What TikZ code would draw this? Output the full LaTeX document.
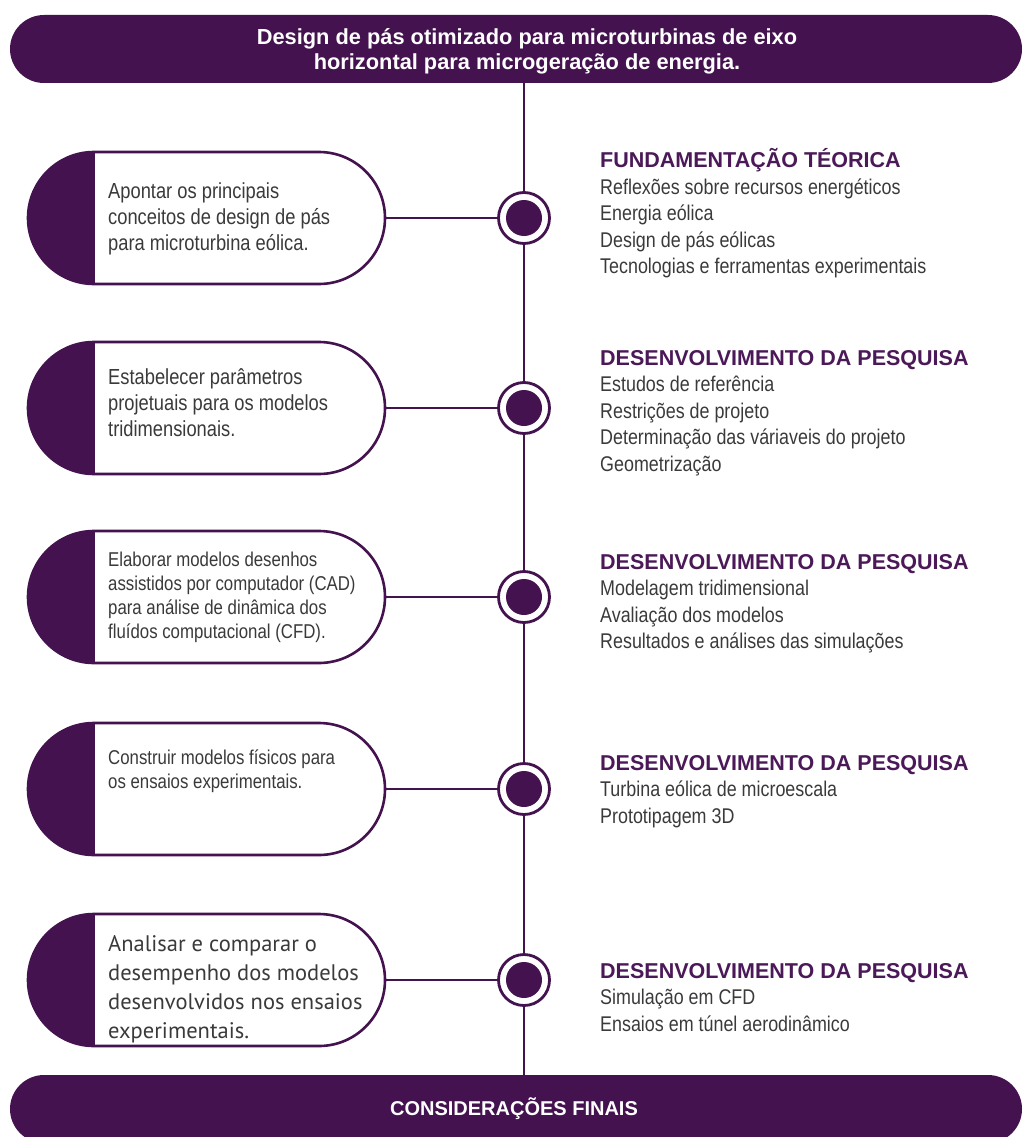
\documentclass[tikz,border=0pt]{standalone}
\usepackage{fontspec}
\setmainfont{Liberation Sans}
\newfontfamily\narrowf[FakeStretch=0.84]{Liberation Sans}
\newfontfamily\myriadf{PT Sans}
\definecolor{pdark}{HTML}{43124F}
\definecolor{ptitle}{HTML}{4B1858}
\definecolor{ptext}{HTML}{3A3A3A}
\begin{document}
\begin{tikzpicture}[x=1pt,y=-1pt,
  banner/.style={fill=pdark, rounded corners=34pt, minimum width=1012pt, minimum height=68pt, inner sep=0pt},
  bantext/.style={text=white, align=center, inner sep=0pt, font=\bfseries\fontsize{21.8}{25}\selectfont},
  pill/.style={draw=pdark, line width=2.6pt, fill=white, rounded corners=66pt, minimum width=357pt, minimum height=132pt, inner sep=0pt,
     path picture={\fill[pdark, sharp corners] (path picture bounding box.north west) rectangle ([xshift=67pt]path picture bounding box.south west);}},
  ring/.style={circle, draw=pdark, line width=2.8pt, fill=white, minimum size=51pt, inner sep=0pt,
     path picture={\fill[pdark] (path picture bounding box.center) circle (18pt);}},
  link/.style={draw=pdark, line width=2.3pt},
  ttl/.style={anchor=base west, inner sep=0pt, text=ptitle, font=\bfseries\fontsize{21.5}{24}\selectfont},
  itm/.style={anchor=base west, inner sep=0pt, text=ptext, font=\narrowf\fontsize{21.3}{25}\selectfont},
  ptxtA/.style={anchor=base west, inner sep=0pt, text=ptext, font=\narrowf\fontsize{21.8}{25}\selectfont},
  ptxtB/.style={anchor=base west, inner sep=0pt, text=ptext, font=\narrowf\fontsize{20}{24}\selectfont},
  ptxtC/.style={anchor=base west, inner sep=0pt, text=ptext, font=\myriadf\fontsize{22.5}{28}\selectfont},
]
\useasboundingbox (0,0) rectangle (1027,1137);
\clip (0,0) rectangle (1027,1137);

% banners
\node[banner] (top) at (516,49) {};
\node[bantext] (toptxt) at (527,51) {Design de pás otimizado para microturbinas de eixo\\horizontal para microgeração de energia.};
\node[banner] (bot) at (516,1109) {};
\node[bantext, font=\bfseries\fontsize{20}{24}\selectfont] (bottxt) at (514,1109) {CONSIDERAÇÕES FINAIS};

% rings
\node[ring] (c1) at (524,218) {};
\node[ring] (c2) at (524,408) {};
\node[ring] (c3) at (524,597) {};
\node[ring] (c4) at (524,789) {};
\node[ring] (c5) at (524,980) {};

% vertical spine
\draw[link] (top.south -| c1) -- (c1);
\draw[link] (c1) -- (c2);
\draw[link] (c2) -- (c3);
\draw[link] (c3) -- (c4);
\draw[link] (c4) -- (c5);
\draw[link] (c5) -- (bot.north -| c5);

% pills
\node[pill] (p1) at (206.5,218) {};
\node[pill] (p2) at (206.5,408) {};
\node[pill] (p3) at (206.5,597) {};
\node[pill] (p4) at (206.5,789) {};
\node[pill] (p5) at (206.5,980) {};

\draw[link] (p1.east) -- (c1.west);
\draw[link] (p2.east) -- (c2.west);
\draw[link] (p3.east) -- (c3.west);
\draw[link] (p4.east) -- (c4.west);
\draw[link] (p5.east) -- (c5.west);

% pill texts
\node[ptxtA] (p1a) at (108,198.5) {Apontar os principais};
\node[ptxtA] (p1b) at (108,224.5) {conceitos de design de pás};
\node[ptxtA] (p1c) at (108,250.5) {para microturbina eólica.};

\node[ptxtA] (p2a) at (108,384.5) {Estabelecer parâmetros};
\node[ptxtA] (p2b) at (108,410.5) {projetuais para os modelos};
\node[ptxtA] (p2c) at (108,436.5) {tridimensionais.};

\node[ptxtB] (p3a) at (108,566.5) {Elaborar modelos desenhos};
\node[ptxtB] (p3b) at (108,590.5) {assistidos por computador (CAD)};
\node[ptxtB] (p3c) at (108,614.5) {para análise de dinâmica dos};
\node[ptxtB] (p3d) at (108,638.5) {fluídos computacional (CFD).};

\node[ptxtB] (p4a) at (108,764) {Construir modelos físicos para};
\node[ptxtB] (p4b) at (108,788) {os ensaios experimentais.};

\node[ptxtC] (p5a) at (108,951) {Analisar e comparar o};
\node[ptxtC] (p5b) at (108,980) {desempenho dos modelos};
\node[ptxtC] (p5c) at (108,1009) {desenvolvidos nos ensaios};
\node[ptxtC] (p5d) at (108,1038) {experimentais.};

% right blocks
\node[ttl] (r1t) at (600,167.5) {FUNDAMENTAÇÃO TÉORICA};
\node[itm] (r1a) at (600,194) {Reflexões sobre recursos energéticos};
\node[itm] (r1b) at (600,220.5) {Energia eólica};
\node[itm] (r1c) at (600,247) {Design de pás eólicas};
\node[itm] (r1d) at (600,273.5) {Tecnologias e ferramentas experimentais};

\node[ttl] (r2t) at (600,365) {DESENVOLVIMENTO DA PESQUISA};
\node[itm] (r2a) at (600,391.5) {Estudos de referência};
\node[itm] (r2b) at (600,418) {Restrições de projeto};
\node[itm] (r2c) at (600,444.5) {Determinação das váriaveis do projeto};
\node[itm] (r2d) at (600,471) {Geometrização};

\node[ttl] (r3t) at (600,569) {DESENVOLVIMENTO DA PESQUISA};
\node[itm] (r3a) at (600,595.5) {Modelagem tridimensional};
\node[itm] (r3b) at (600,622) {Avaliação dos modelos};
\node[itm] (r3c) at (600,648.5) {Resultados e análises das simulações};

\node[ttl] (r4t) at (600,770) {DESENVOLVIMENTO DA PESQUISA};
\node[itm] (r4a) at (600,796.5) {Turbina eólica de microescala};
\node[itm] (r4b) at (600,823) {Prototipagem 3D};

\node[ttl] (r5t) at (600,978) {DESENVOLVIMENTO DA PESQUISA};
\node[itm] (r5a) at (600,1004.5) {Simulação em CFD};
\node[itm] (r5b) at (600,1031) {Ensaios em túnel aerodinâmico};
\end{tikzpicture}
\end{document}
